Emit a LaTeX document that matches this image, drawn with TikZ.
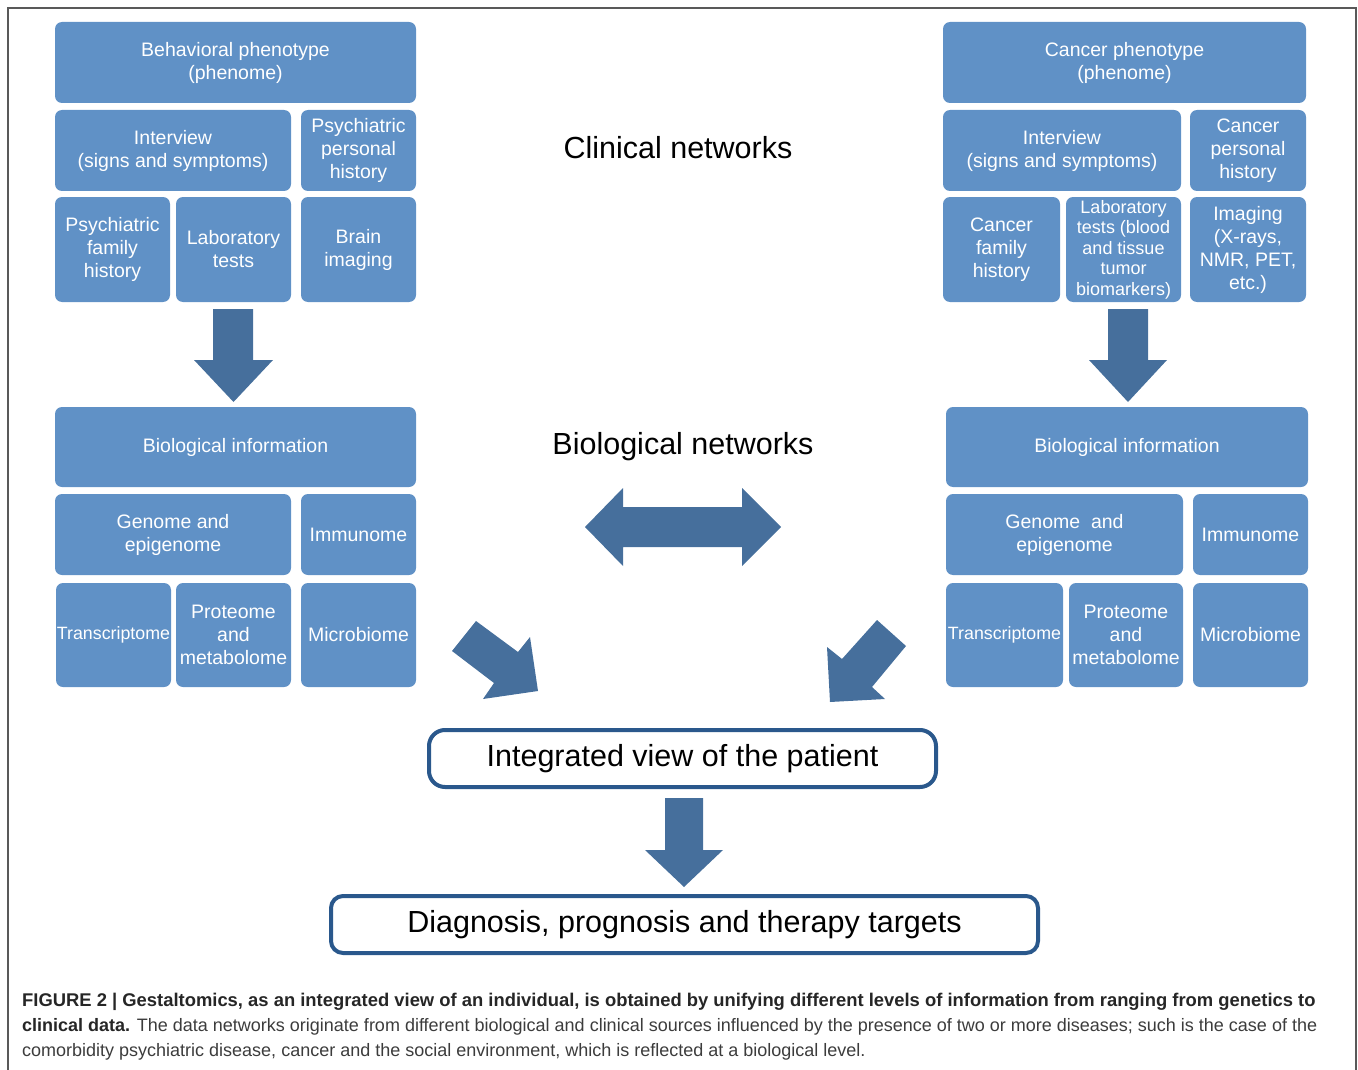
\documentclass[tikz,border=0pt]{standalone}
\usepackage{fontspec}
\setmainfont{Liberation Sans}
\definecolor{boxblue}{RGB}{96,145,198}
\definecolor{arrowblue}{RGB}{70,111,156}
\definecolor{rimblue}{RGB}{42,88,140}
\definecolor{captext}{RGB}{60,60,60}
\begin{document}
\begin{tikzpicture}[x=1pt,y=-1pt,
  tile/.style={rounded corners=7pt,fill=boxblue,text=white,align=center,inner sep=0pt,
    font=\fontsize{19.5}{23}\selectfont},
  outcome/.style={draw=rimblue,line width=4pt,rounded corners=16pt,fill=white,align=center,
    minimum height=57pt,font=\fontsize{30.5}{35}\selectfont},
  nettitle/.style={font=\fontsize{30.5}{35}\selectfont},
  blockarrow/.style={fill=arrowblue}]
 \useasboundingbox (0,0) rectangle (1358,1070);
 \draw[gray!70!black,line width=1.2pt] (8,1070)--(8,8)--(1356,8)--(1356,1070);
 % psychiatric side, clinical
 \node[tile,minimum width=361pt,minimum height=81pt] (bphen) at (235.5,62.5) {Behavioral phenotype\\(phenome)};
 \node[tile,minimum width=236pt,minimum height=81pt] (lint) at (173,150.5) {Interview\\(signs and symptoms)};
 \node[tile,minimum width=115pt,minimum height=81pt] (lpers) at (358.5,150.5) {Psychiatric\\personal\\history};
 \node[tile,minimum width=115pt,minimum height=105pt] (lfam) at (112.5,249.5) {Psychiatric\\family\\history};
 \node[tile,minimum width=115pt,minimum height=105pt] (llab) at (233.5,249.5) {Laboratory\\tests};
 \node[tile,minimum width=115pt,minimum height=105pt] (limg) at (358.5,249.5) {Brain\\imaging};
 % cancer side, clinical
 \node[tile,minimum width=363pt,minimum height=81pt] (cphen) at (1124.5,62.5) {Cancer phenotype\\(phenome)};
 \node[tile,minimum width=238pt,minimum height=81pt] (rint) at (1062,150.5) {Interview\\(signs and symptoms)};
 \node[tile,minimum width=116pt,minimum height=81pt] (rpers) at (1248,150.5) {Cancer\\personal\\history};
 \node[tile,minimum width=117pt,minimum height=105pt] (rfam) at (1001.5,249.5) {Cancer\\family\\history};
 \node[tile,minimum width=115pt,minimum height=105pt,font=\fontsize{18}{20.5}\selectfont] (rlab) at (1123.5,249.5) {Laboratory\\tests (blood\\and tissue\\tumor\\biomarkers)};
 \node[tile,minimum width=116pt,minimum height=105pt] (rimg) at (1248,249.5) {Imaging\\(X-rays,\\NMR, PET,\\etc.)};
 % biological levels
 \node[tile,minimum width=361pt,minimum height=80pt] (lbio) at (235.5,447) {Biological information};
 \node[tile,minimum width=236pt,minimum height=81pt] (lgen) at (173,534.5) {Genome and\\epigenome};
 \node[tile,minimum width=115pt,minimum height=81pt] (limm) at (358.5,534.5) {Immunome};
 \node[tile,minimum width=115pt,minimum height=104pt,font=\fontsize{17.8}{21}\selectfont] (ltra) at (113.5,635) {Transcriptome};
 \node[tile,minimum width=115pt,minimum height=104pt] (lpro) at (233.5,635) {Proteome\\and\\metabolome};
 \node[tile,minimum width=115pt,minimum height=104pt] (lmic) at (358.5,635) {Microbiome};
 \node[tile,minimum width=362pt,minimum height=80pt] (rbio) at (1127,447) {Biological information};
 \node[tile,minimum width=237pt,minimum height=81pt] (rgen) at (1064.5,534.5) {Genome~ and\\epigenome};
 \node[tile,minimum width=115pt,minimum height=81pt] (rimm) at (1250.5,534.5) {Immunome};
 \node[tile,minimum width=117pt,minimum height=104pt,font=\fontsize{17.8}{21}\selectfont] (rtra) at (1004.5,635) {Transcriptome};
 \node[tile,minimum width=114pt,minimum height=104pt] (rpro) at (1126,635) {Proteome\\and\\metabolome};
 \node[tile,minimum width=115pt,minimum height=104pt] (rmic) at (1250.5,635) {Microbiome};
 % headings
 \node[nettitle] (clin) at (678,148) {Clinical networks};
 \node[nettitle] (biol) at (683,446.5) {Biological networks};
 % outcomes
 \node[outcome,minimum width=507pt] (integ) at (682.5,758.5) {Integrated view of the patient};
 \node[outcome,minimum width=707pt,rounded corners=12pt] (diag) at (684.5,924.5) {Diagnosis, prognosis and therapy targets};
 % block arrows
 \fill[blockarrow] (213,309)--(253,309)--(253,360)--(273,360)--(233.5,402)--(194,360)--(213,360)--cycle;
 \fill[blockarrow] (1108,309)--(1148,309)--(1148,360)--(1167,360)--(1128,402)--(1089,360)--(1108,360)--cycle;
 \fill[blockarrow] (585,527)--(623,488)--(623,507)--(742,507)--(742,488)--(781,527)--(742,566)--(742,547)--(623,547)--(623,566)--cycle;
 \fill[blockarrow] (476,621)--(518,652)--(530,637)--(538,691)--(483,699)--(494,683)--(452,651)--cycle;
 \fill[blockarrow] (877,620)--(906,646)--(872,687)--(885,699)--(830,702)--(827,647)--(842,659)--cycle;
 \fill[blockarrow] (665,798)--(703,798)--(703,850)--(723,850)--(684,887)--(645,850)--(665,850)--cycle;
 % caption
 \node[anchor=base west,inner sep=0pt,font=\fontsize{18.4}{20}\selectfont\bfseries,text=black!85] (cap1) at (22,1006)
   {FIGURE 2 | Gestaltomics, as an integrated view of an individual, is obtained by unifying different levels of information from ranging from genetics to};
 \node[anchor=base west,inner sep=0pt,font=\fontsize{18}{20}\selectfont,text=captext] (cap2) at (22,1031)
   {\textbf{\color{black!85}clinical data.} The data networks originate from different biological and clinical sources influenced by the presence of two or more diseases; such is the case of the};
 \node[anchor=base west,inner sep=0pt,font=\fontsize{18}{20}\selectfont,text=captext] (cap3) at (22,1056)
   {comorbidity psychiatric disease, cancer and the social environment, which is reflected at a biological level.};
\end{tikzpicture}
\end{document}
